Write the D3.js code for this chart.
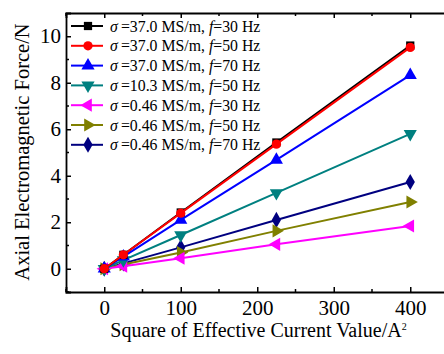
<!DOCTYPE html>
<html>
<head>
<meta charset="utf-8">
<script src="https://cdn.jsdelivr.net/npm/d3@7"></script>
<style>
	body { margin: 0; background: #fff; }
	text { font-family: "Liberation Serif", "Times New Roman", serif; }
</style>
</head>
<body>
<div id="chart"></div>
<script>
var xValues = [0, 25, 100, 225, 400];

var seriesNames = [
	['37.0', '30'], ['37.0', '50'], ['37.0', '70'], ['10.3', '50'],
	['0.46', '30'], ['0.46', '50'], ['0.46', '70']
];
var seriesColors = ['#000000', '#ff0000', '#0000ff', '#008080', '#ff00ff', '#808000', '#000080'];
var seriesSymbols = ['square', 'circle', 'up', 'down', 'left', 'right', 'diamond'];

var black37f30 = [0, 0.6, 2.42, 5.43, 9.6];
var red37f50 = [0, 0.6, 2.39, 5.36, 9.52];
var blue37f70 = [0, 0.52, 2.1, 4.68, 8.33];
var teal103f50 = [0, 0.37, 1.45, 3.26, 5.8];
var magenta046f30 = [0, 0.11, 0.45, 1.05, 1.84];
var olive046f50 = [0, 0.18, 0.7, 1.63, 2.87];
var navy046f70 = [0, 0.23, 0.92, 2.1, 3.73];
var seriesValues = [black37f30, red37f50, blue37f70, teal103f50, magenta046f30, olive046f50, navy046f70];

var xTicks = [0, 100, 200, 300, 400];
var yTicks = [0, 2, 4, 6, 8, 10];

var W = 444, H = 354;
var plotLeft = 66, plotTop = 13, plotBottom = 292;

var svg = d3.select('#chart').append('svg')
	.attr('width', W)
	.attr('height', H);

var x = d3.scaleLinear().domain([-50, 450]).range([plotLeft, plotLeft + 500 * 0.765]);
var y = d3.scaleLinear().domain([-1, 11]).range([plotBottom, plotTop]);

// axes, ticks pointing inward
var xAxis = d3.axisBottom(x).tickValues(xTicks).tickSize(-5).tickPadding(8).tickFormat(d3.format('d'));
var yAxis = d3.axisLeft(y).tickValues(yTicks).tickSize(-5).tickPadding(5).tickFormat(d3.format('d'));

var gx = svg.append('g').attr('transform', 'translate(0,' + plotBottom + ')').call(xAxis);
var gy = svg.append('g').attr('transform', 'translate(' + plotLeft + ',0)').call(yAxis);
var gt = svg.append('g').attr('transform', 'translate(0,' + plotTop + ')')
	.call(d3.axisTop(x).tickValues(xTicks).tickSize(-5).tickFormat(''));

[gx, gy, gt].forEach(function(g) {
	g.select('.domain').attr('stroke', '#000').attr('stroke-width', 1.8);
	g.selectAll('.tick line').attr('stroke', '#000').attr('stroke-width', 1.5);
	g.selectAll('.tick text').attr('fill', '#000').style('font-size', '21px');
});
gx.selectAll('.tick text').attr('dy', '0.71em');

// minor ticks
var xMinor = [-50, 50, 150, 250, 350];
var yMinor = [-1, 1, 3, 5, 7, 9];
svg.append('g').selectAll('line').data(xMinor).enter().append('line')
	.attr('x1', function(d) { return x(d); }).attr('x2', function(d) { return x(d); })
	.attr('y1', plotBottom).attr('y2', plotBottom - 3)
	.attr('stroke', '#000').attr('stroke-width', 1.5);
svg.append('g').selectAll('line').data(xMinor).enter().append('line')
	.attr('x1', function(d) { return x(d); }).attr('x2', function(d) { return x(d); })
	.attr('y1', plotTop).attr('y2', plotTop + 3)
	.attr('stroke', '#000').attr('stroke-width', 1.5);
svg.append('g').selectAll('line').data(yMinor).enter().append('line')
	.attr('x1', plotLeft).attr('x2', plotLeft + 3)
	.attr('y1', function(d) { return y(d); }).attr('y2', function(d) { return y(d); })
	.attr('stroke', '#000').attr('stroke-width', 1.5);

// axis titles
var xt = svg.append('text')
	.attr('x', (85 + 432) / 2).attr('y', 337)
	.attr('text-anchor', 'middle')
	.style('font-size', '20px');
xt.append('tspan').text('Square of Effective Current Value/A');
xt.append('tspan').attr('dy', -7).style('font-size', '10px').text('2');

svg.append('text')
	.attr('transform', 'translate(29,' + 152 + ') rotate(-90)')
	.attr('text-anchor', 'middle')
	.style('font-size', '20.5px')
	.text('Axial Electromagnetic Force/N');

function symbolPath(type) {
	var map = {
		square: d3.symbolSquare, circle: d3.symbolCircle, diamond: d3.symbolDiamond
	};
	if (map[type]) return d3.symbol().type(map[type]).size(type === 'diamond' ? 75 : 68)();
	return d3.symbol().type(d3.symbolTriangle).size(75)();
}
function symbolRotate(type) {
	return { down: 180, left: -90, right: 90 }[type] || 0;
}

var line = d3.line()
	.x(function(d, i) { return x(xValues[i]); })
	.y(function(d) { return y(d); });

// draw in reverse so black/red appear on top
var order = [6, 5, 4, 3, 2, 0, 1];
order.forEach(function(k) {
	var g = svg.append('g');
	g.append('path')
		.datum(seriesValues[k])
		.attr('d', line)
		.attr('fill', 'none')
		.attr('stroke', seriesColors[k])
		.attr('stroke-width', 2);
	g.selectAll('path.m').data(seriesValues[k]).enter().append('path')
		.attr('class', 'm')
		.attr('d', symbolPath(seriesSymbols[k]))
		.attr('transform', function(d, i) {
			return 'translate(' + x(xValues[i]) + ',' + y(d) + ') rotate(' + symbolRotate(seriesSymbols[k]) + ')';
		})
		.attr('fill', seriesColors[k]);
});

// legend
var legend = svg.append('g');
seriesNames.forEach(function(s, i) {
	var ly = 26 + i * 19.8;
	var row = legend.append('g');
	row.append('line')
		.attr('x1', 71).attr('x2', 103).attr('y1', ly).attr('y2', ly)
		.attr('stroke', seriesColors[i]).attr('stroke-width', 2);
	row.append('path')
		.attr('d', symbolPath(seriesSymbols[i]))
		.attr('transform', 'translate(88,' + ly + ') rotate(' + symbolRotate(seriesSymbols[i]) + ')')
		.attr('fill', seriesColors[i]);
	var t = row.append('text')
		.attr('x', 110).attr('y', ly + 5.5)
		.style('font-size', '15.8px');
	t.append('tspan').style('font-style', 'italic').text('\u03c3');
	t.append('tspan').text('\u2009=' + s[0] + ' MS/m, ');
	t.append('tspan').style('font-style', 'italic').text('f');
	t.append('tspan').text('=' + s[1] + ' Hz');
});
</script>
</body>
</html>
